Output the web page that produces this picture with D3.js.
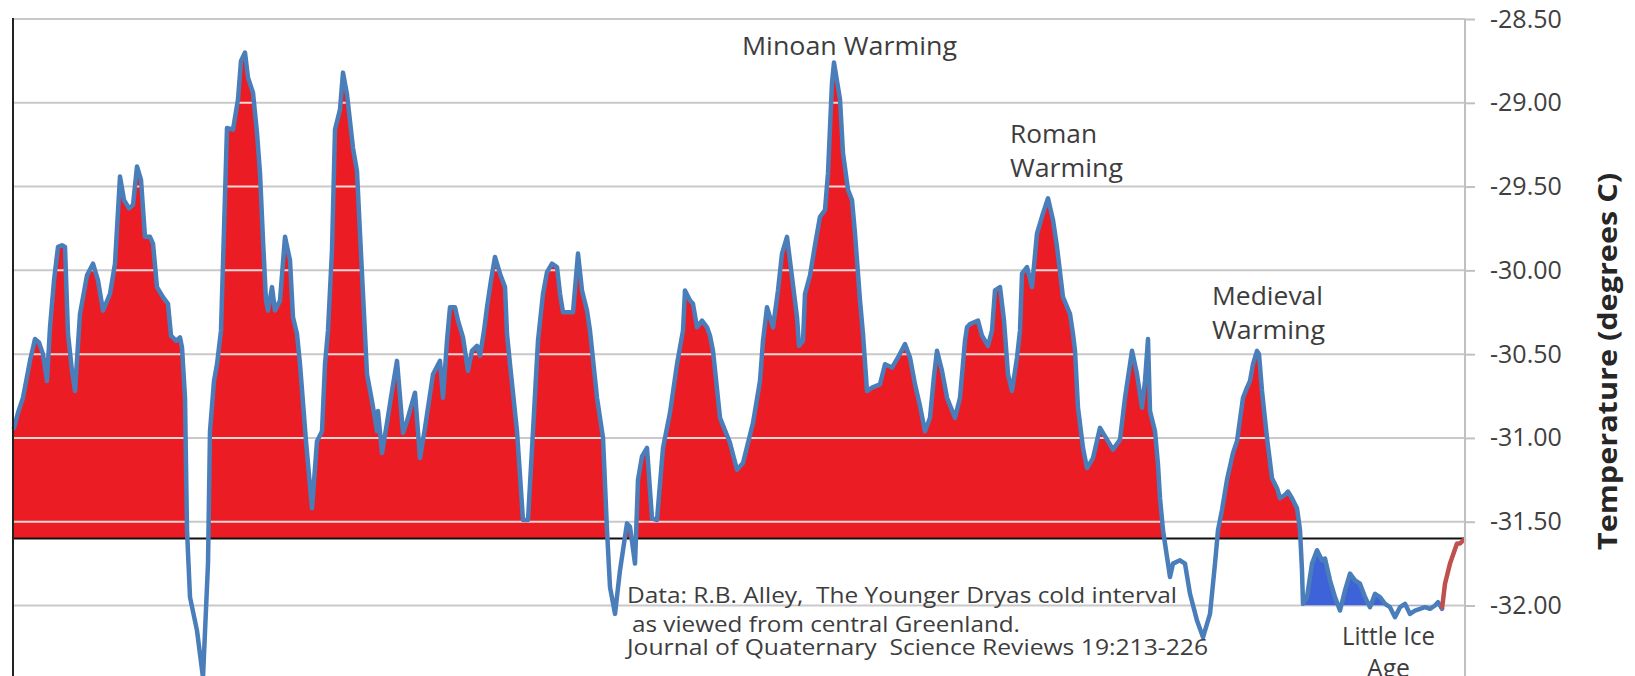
<!DOCTYPE html>
<html>
<head>
<meta charset="utf-8">
<script src="https://cdn.jsdelivr.net/npm/d3@7"></script>
<style>
  html, body { margin: 0; padding: 0; background: #fff; }
  svg { display: block; }
  text { font-family: "Open Sans", "DejaVu Sans", sans-serif; fill: #404040; }
</style>
</head>
<body>
<svg width="1635" height="676"></svg>
<script>
// GISP2 central Greenland temperature
// years before present
var yearsBP = [
  7255,7235,7210,7175,7150,7130,7110,7090,7075,7055,
  7035,7015,7000,6985,6965,6950,6925,6890,6860,6835,
  6810,6775,6750,6725,6705,6680,6660,6640,6620,6600,
  6575,6560,6540,6510,6485,6470,6445,6425,6415,6400,
  6390,6375,6340,6310,6285,6275,6255,6240,6220,6205,
  6190,6160,6135,6120,6100,6085,6060,6040,6025,6010,
  5995,5985,5965,5950,5925,5900,5875,5860,5840,5825,
  5795,5765,5740,5715,5700,5685,5665,5650,5625,5610,
  5590,5560,5540,5525,5500,5490,5465,5440,5435,5415,
  5390,5365,5340,5310,5290,5250,5225,5200,5160,5125,
  5110,5090,5075,5050,5035,5010,4985,4965,4940,4925,
  4905,4890,4870,4850,4825,4800,4790,4775,4740,4710,
  4685,4660,4635,4610,4590,4565,4540,4525,4510,4460,
  4435,4415,4390,4375,4340,4310,4290,4275,4250,4225,
  4190,4175,4150,4135,4115,4090,4065,4040,4010,3975,
  3940,3910,3900,3875,3860,3840,3815,3790,3775,3760,
  3725,3675,3640,3610,3560,3525,3510,3490,3460,3435,
  3415,3390,3365,3340,3330,3310,3300,3275,3250,3225,
  3200,3185,3165,3155,3140,3125,3110,3085,3065,3050,
  3025,3010,2990,2965,2925,2900,2865,2835,2800,2775,
  2750,2725,2700,2675,2655,2640,2615,2590,2550,2525,
  2500,2490,2475,2435,2415,2400,2385,2365,2350,2325,
  2305,2285,2265,2240,2225,2215,2190,2165,2140,2110,
  2085,2060,2040,2010,1975,1960,1950,1935,1910,1890,
  1860,1825,1790,1760,1725,1700,1665,1640,1615,1600,
  1585,1575,1550,1535,1525,1510,1490,1475,1460,1425,
  1400,1375,1340,1310,1275,1250,1235,1215,1190,1160,
  1140,1110,1090,1075,1060,1040,1030,1015,990,965,
  940,925,900,885,865,840,825,815,810,790,
  765,740,715,700,675,650,625,600,575,550,
  525,500,475,450,425,400,375,350,325,300,
  275,250,225,200,175,150,135,115
];

// temperature (degrees C)
var tempC = [
  -30.94,-30.85,-30.76,-30.54,-30.41,-30.43,-30.50,-30.66,-30.34,-30.06,
  -29.86,-29.85,-29.86,-30.38,-30.60,-30.72,-30.26,-30.03,-29.96,-30.06,
  -30.24,-30.14,-29.96,-29.44,-29.58,-29.63,-29.61,-29.38,-29.46,-29.80,
  -29.80,-29.84,-30.10,-30.16,-30.20,-30.39,-30.42,-30.40,-30.46,-30.76,
  -31.55,-31.95,-32.15,-32.43,-31.75,-30.96,-30.66,-30.56,-30.36,-29.76,
  -29.15,-29.16,-28.98,-28.75,-28.70,-28.85,-28.94,-29.18,-29.42,-29.82,
  -30.18,-30.24,-30.10,-30.24,-30.18,-29.80,-29.94,-30.28,-30.38,-30.56,
  -31.02,-31.42,-31.02,-30.96,-30.56,-30.36,-29.88,-29.16,-29.04,-28.82,
  -28.95,-29.27,-29.41,-29.78,-30.38,-30.62,-30.78,-30.96,-30.84,-31.09,
  -30.91,-30.72,-30.54,-30.97,-30.90,-30.73,-31.12,-30.94,-30.62,-30.54,
  -30.76,-30.42,-30.22,-30.22,-30.30,-30.40,-30.60,-30.48,-30.45,-30.51,
  -30.36,-30.22,-30.06,-29.92,-30.02,-30.10,-30.38,-30.56,-30.96,-31.49,
  -31.49,-30.96,-30.42,-30.14,-30.01,-29.96,-29.98,-30.14,-30.25,-30.25,
  -29.90,-30.12,-30.24,-30.36,-30.76,-31.00,-31.55,-31.89,-32.05,-31.79,
  -31.51,-31.53,-31.75,-31.25,-31.11,-31.06,-31.48,-31.49,-31.06,-30.85,
  -30.56,-30.36,-30.12,-30.18,-30.20,-30.34,-30.30,-30.34,-30.39,-30.48,
  -30.88,-31.03,-31.19,-31.15,-30.91,-30.66,-30.42,-30.22,-30.34,-30.12,
  -29.90,-29.80,-30.04,-30.28,-30.45,-30.42,-30.14,-30.03,-29.85,-29.68,
  -29.64,-29.42,-28.88,-28.76,-28.87,-28.98,-29.30,-29.52,-29.58,-29.78,
  -30.18,-30.38,-30.72,-30.70,-30.68,-30.56,-30.58,-30.52,-30.44,-30.52,
  -30.68,-30.81,-30.96,-30.88,-30.63,-30.48,-30.60,-30.76,-30.88,-30.76,
  -30.42,-30.34,-30.32,-30.30,-30.39,-30.42,-30.45,-30.36,-30.12,-30.10,
  -30.30,-30.62,-30.72,-30.52,-30.36,-30.02,-29.98,-30.10,-29.78,-29.66,
  -29.57,-29.70,-29.86,-30.16,-30.26,-30.38,-30.48,-30.82,-31.06,-31.18,
  -31.12,-30.94,-31.01,-31.07,-31.01,-30.76,-30.48,-30.62,-30.82,-30.66,
  -30.41,-30.84,-30.96,-31.16,-31.36,-31.55,-31.71,-31.83,-31.75,-31.73,
  -31.75,-31.93,-32.09,-32.19,-32.05,-31.75,-31.55,-31.43,-31.25,-31.09,
  -31.02,-30.76,-30.70,-30.66,-30.56,-30.48,-30.50,-30.72,-31.00,-31.24,
  -31.30,-31.36,-31.34,-31.32,-31.36,-31.42,-31.55,-31.79,-31.99,-31.95,
  -31.75,-31.67,-31.73,-31.72,-31.85,-31.95,-32.03,-31.91,-31.81,-31.85,
  -31.87,-31.95,-32.01,-31.93,-31.95,-31.99,-32.01,-32.07,-32.01,-31.99,
  -32.05,-32.03,-32.02,-32.01,-32.02,-32.00,-31.98,-32.02
];

// recent warming tail (red segment)
var modernBP = [115, 100, 75, 40, 25, 0];
var modernTemp = [-32.02, -31.87, -31.75, -31.63, -31.63, -31.60];

var tickTemps = [-32, -31.5, -31, -30.5, -30, -29.5, -29, -28.5];
var baseTemp = -31.6;   // red fill reference line
var liaFloor = -32;     // blue fill floor
var liaStartBP = 810;   // little ice age fill starts here

var notes = [
  {text: "Minoan Warming", x: 742, y: 55, w: 215},
  {text: "Roman", x: 1010, y: 143, w: 87},
  {text: "Warming", x: 1010, y: 177, w: 113},
  {text: "Medieval", x: 1212, y: 305, w: 111},
  {text: "Warming", x: 1212, y: 339, w: 113},
  {text: "Little Ice", x: 1342, y: 645, w: 93},
  {text: "Age", x: 1367, y: 677, w: 43}
];
var source = [
  {text: "Data: R.B. Alley,  The Younger Dryas cold interval", x: 627, y: 603, w: 550},
  {text: "as viewed from central Greenland.", x: 632, y: 632, w: 388},
  {text: "Journal of Quaternary  Science Reviews 19:213-226", x: 627, y: 655, w: 581}
];

var svg = d3.select("svg"),
    width = +svg.attr("width"),
    height = +svg.attr("height");

var x = d3.scaleLinear().domain([d3.max(yearsBP), 0]).range([14, 1465]);
var y = d3.scaleLinear().domain([-32, -28.5]).range([605.5, 19]);

var data = yearsBP.map(function(d, i) { return {bp: d, t: tempC[i]}; });
var modern = modernBP.map(function(d, i) { return {bp: d, t: modernTemp[i]}; });

var warmArea = d3.area()
    .x(function(d) { return x(d.bp); })
    .y0(y(baseTemp))
    .y1(function(d) { return y(d.t); });

var coolArea = d3.area()
    .x(function(d) { return x(d.bp); })
    .y0(y(liaFloor))
    .y1(function(d) { return y(d.t); });

var line = d3.line()
    .x(function(d) { return x(d.bp); })
    .y(function(d) { return y(d.t); });

var defs = svg.append("defs");
defs.append("clipPath").attr("id", "above")
  .append("rect").attr("x", 0).attr("y", 0)
    .attr("width", width).attr("height", y(baseTemp));
defs.append("clipPath").attr("id", "aboveFloor")
  .append("rect").attr("x", 0).attr("y", 0)
    .attr("width", width).attr("height", y(liaFloor));
defs.append("clipPath").attr("id", "warmShape")
  .append("path").attr("d", warmArea(data));

// grey gridlines
svg.append("g")
  .selectAll("line")
  .data(tickTemps)
  .enter().append("line")
    .attr("x1", x.range()[0]).attr("x2", x.range()[1])
    .attr("y1", function(d) { return y(d); })
    .attr("y2", function(d) { return y(d); })
    .style("stroke", "#c9c9c9").style("stroke-width", "2px");

// red fill above the reference line
svg.append("g").attr("clip-path", "url(#above)")
  .append("path")
    .attr("d", warmArea(data))
    .style("fill", "#ec1c24");

// gridlines show pale over the red
svg.append("g").attr("clip-path", "url(#above)")
  .append("g").attr("clip-path", "url(#warmShape)")
  .selectAll("line")
  .data(tickTemps)
  .enter().append("line")
    .attr("x1", x.range()[0]).attr("x2", x.range()[1])
    .attr("y1", function(d) { return y(d); })
    .attr("y2", function(d) { return y(d); })
    .style("stroke", "#f7d6d6").style("stroke-width", "2px");

// little ice age blue fill
svg.append("g").attr("clip-path", "url(#aboveFloor)")
  .append("path")
    .attr("d", coolArea(data.filter(function(d) { return d.bp <= liaStartBP; })))
    .style("fill", "#3e63d8");

// reference line
svg.append("line")
    .attr("x1", x.range()[0]).attr("x2", x.range()[1])
    .attr("y1", y(baseTemp)).attr("y2", y(baseTemp))
    .style("stroke", "#111").style("stroke-width", "2px");

svg.append("path")
    .datum(data)
    .attr("d", line)
    .style("fill", "none")
    .style("stroke", "#4a7ebb")
    .style("stroke-width", "4.5px")
    .style("stroke-linejoin", "round")
    .style("stroke-linecap", "round");

svg.append("path")
    .datum(modern)
    .attr("d", line)
    .style("fill", "none")
    .style("stroke", "#c0504d")
    .style("stroke-width", "4.5px")
    .style("stroke-linejoin", "round");

// right axis
var axis = svg.append("g")
    .attr("transform", "translate(" + x.range()[1] + ",0)")
    .call(d3.axisRight(y)
      .tickValues(tickTemps)
      .tickSize(10)
      .tickSizeOuter(0)
      .tickPadding(15)
      .tickFormat(function(d) { return d.toFixed(2); }));
axis.select(".domain").remove();
axis.selectAll(".tick line").style("stroke", "#c0c0c0").style("stroke-width", "2px");
axis.selectAll(".tick text")
    .style("font-size", "25px")
    .style("fill", "#404040")
    .style("font-family", "'Open Sans', sans-serif");

svg.append("line")
    .attr("x1", x.range()[1]).attr("x2", x.range()[1])
    .attr("y1", y(-28.5)).attr("y2", height)
    .style("stroke", "#c0c0c0").style("stroke-width", "2px");

// left edge
svg.append("line")
    .attr("x1", 13).attr("x2", 13)
    .attr("y1", y(-28.5) - 1).attr("y2", height)
    .style("stroke", "#222").style("stroke-width", "2px");

svg.append("text")
    .attr("transform", "translate(1617," + ((173 + 550) / 2) + ") rotate(-90)")
    .attr("text-anchor", "middle")
    .attr("textLength", 377)
    .attr("lengthAdjust", "spacingAndGlyphs")
    .style("font-size", "27px")
    .style("font-weight", "bold")
    .style("fill", "#262626")
    .text("Temperature (degrees C)");

svg.append("g")
  .selectAll("text")
  .data(notes)
  .enter().append("text")
    .attr("x", function(d) { return d.x; })
    .attr("y", function(d) { return d.y; })
    .attr("textLength", function(d) { return d.w; })
    .attr("lengthAdjust", "spacingAndGlyphs")
    .style("font-size", "26px")
    .style("fill", "#3d3d3d")
    .text(function(d) { return d.text; });

svg.append("g")
  .selectAll("text")
  .data(source)
  .enter().append("text")
    .attr("x", function(d) { return d.x; })
    .attr("y", function(d) { return d.y; })
    .attr("textLength", function(d) { return d.w; })
    .attr("lengthAdjust", "spacingAndGlyphs")
    .style("font-size", "22px")
    .style("white-space", "pre")
    .style("fill", "#3d3d3d")
    .text(function(d) { return d.text; });
</script>
</body>
</html>
